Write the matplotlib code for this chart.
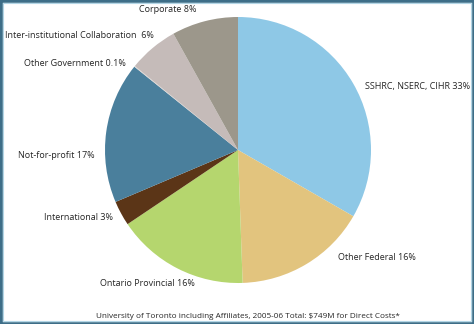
import matplotlib
matplotlib.use("Agg")
import matplotlib.pyplot as plt
from matplotlib.patches import Rectangle

# Research funding by source (percent)
sources = ["SSHRC, NSERC, CIHR", "Other Federal", "Ontario Provincial", "International",
           "Not-for-profit", "Other Government", "Inter-institutional Collaboration", "Corporate"]
shares = [33, 16, 16, 3, 17, 0.1, 6, 8]
label_texts = ["SSHRC, NSERC, CIHR 33%", "Other Federal 16%", "Ontario Provincial 16%",
               "International 3%", "Not-for-profit 17%", "Other Government 0.1%",
               "Inter-institutional Collaboration  6%", "Corporate 8%"]
colors = ["#8ec8e6", "#e2c47e", "#b5d66e", "#5b3517", "#4a7f9c", "#d9d4d0", "#c5bbb9", "#9c978b"]

# label placement in figure pixels (x, y from top) and alignment
label_pos = [(470, 86, "right"), (416, 258, "right"), (100, 284, "left"), (44, 217, "left"),
             (18, 155, "left"), (24, 63, "left"), (5, 35, "left"), (168, 9, "center")]

W, H = 474, 324
fig = plt.figure(figsize=(W / 100, H / 100), dpi=100)
fig.patch.set_facecolor("white")

# pie axes: centre ~ (238,150), radius ~133 px
cx, cy, r = 238, 150, 133
ax = fig.add_axes([(cx - r) / W, 1 - (cy + r) / H, 2 * r / W, 2 * r / H])
ax.pie(shares, colors=colors, startangle=90, counterclock=False,
       wedgeprops=dict(linewidth=0))
ax.set_xlim(-1, 1)
ax.set_ylim(-1, 1)
ax.set_aspect("equal")
ax.axis("off")

txt_color = "#262626"
for txt, (px, py, ha) in zip(label_texts, label_pos):
    fig.text(px / W, 1 - py / H, txt, ha=ha, va="center", fontsize=6.5,
             color=txt_color, family="Open Sans")

fig.text(248 / W, 1 - 316 / H,
         "University of Toronto including Affiliates, 2005-06 Total: $749M for Direct Costs*",
         ha="center", va="center", fontsize=5.9, color=txt_color, family="Open Sans")

# blue frame around the picture
fig.patches.append(Rectangle((0.5 / W, 0.5 / H), 1 - 1 / W, 1 - 1 / H, transform=fig.transFigure,
                             fill=False, edgecolor="#3d6e88", linewidth=2.6))
fig.patches.append(Rectangle((3 / W, 3 / H), 1 - 6 / W, 1 - 6 / H, transform=fig.transFigure,
                             fill=False, edgecolor="#b3d6e6", linewidth=0.8))

fig.savefig("out.png", dpi=100)
